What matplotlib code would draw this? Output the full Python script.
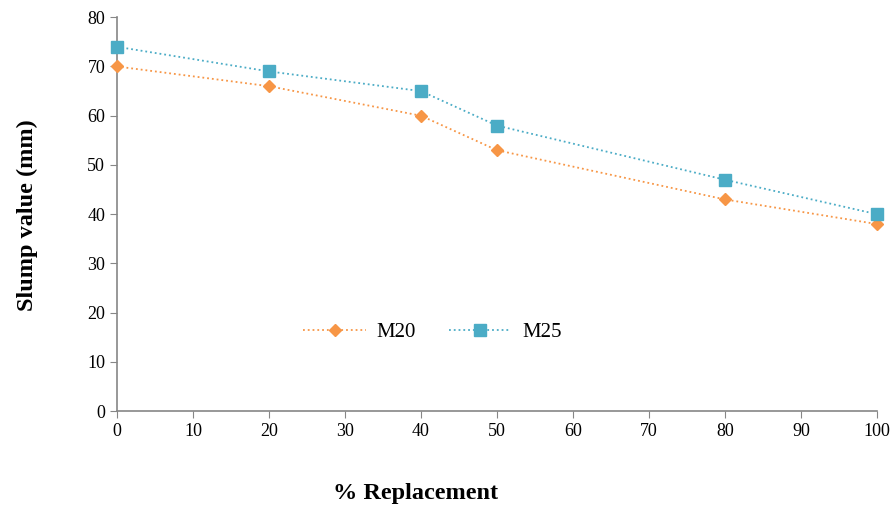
import matplotlib
matplotlib.use("Agg")
import matplotlib.pyplot as plt

replacement = [0, 20, 40, 50, 80, 100]
m20 = [70, 66, 60, 53, 43, 38]
m25 = [74, 69, 65, 58, 47, 40]
xticks = [0, 10, 20, 30, 40, 50, 60, 70, 80, 90, 100]
yticks = [0, 10, 20, 30, 40, 50, 60, 70, 80]

plt.rcParams['font.family'] = ['Liberation Serif', 'DejaVu Serif']

fig = plt.figure(figsize=(8.93, 5.07), dpi=100)
ax = fig.add_axes([0.131, 0.189, 0.851, 0.777])

ax.plot(replacement, m20, color='#F79646', linestyle=':', linewidth=1.3,
        marker='D', markersize=6, label='M20', clip_on=False, zorder=3)
ax.plot(replacement, m25, color='#4BACC6', linestyle=':', linewidth=1.3,
        marker='s', markersize=8, label='M25', clip_on=False, zorder=3)

ax.set_xlim(0, 100)
ax.set_ylim(0, 80)
ax.set_xticks(xticks)
ax.set_yticks(yticks)
ax.tick_params(direction='out', length=5, color='#868686', labelsize=13)
for s in ['top', 'right']:
    ax.spines[s].set_visible(False)
for s in ['left', 'bottom']:
    ax.spines[s].set_color('#868686')
    ax.spines[s].set_linewidth(1.2)

ax.set_xlabel('% Replacement', fontsize=17.5, fontweight='bold', va='center')
ax.set_ylabel('Slump value (mm)', fontsize=17.5, fontweight='bold', va='center')
ax.xaxis.set_label_coords(0.393, -0.208)
ax.yaxis.set_label_coords(-0.118, 0.497)

ax.legend(loc='center', bbox_to_anchor=(0.415, 0.2), ncol=2, frameon=False,
          fontsize=15, handlelength=3, columnspacing=1.6, handletextpad=0.5)

fig.savefig('out.png', dpi=100)
